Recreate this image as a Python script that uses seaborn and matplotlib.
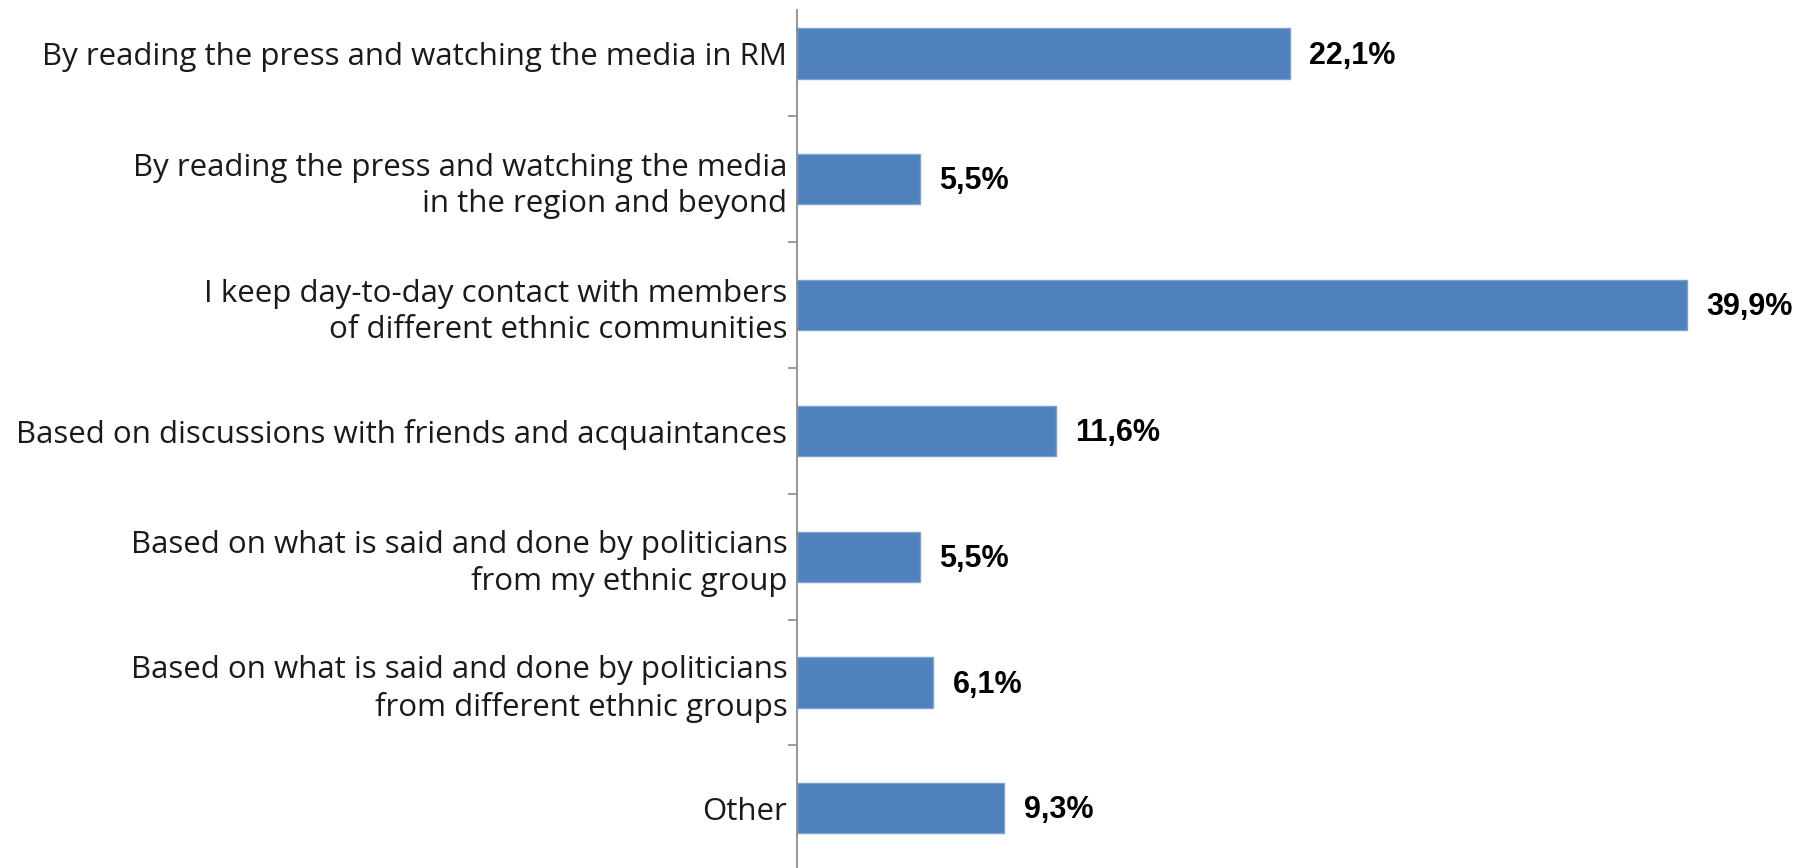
import matplotlib
matplotlib.use("Agg")
import matplotlib.pyplot as plt
import seaborn as sns
import pandas as pd

categories = [
    "By reading the press and watching the media in RM",
    "By reading the press and watching the media\nin the region and beyond",
    "I keep day-to-day contact with members\nof different ethnic communities",
    "Based on discussions with friends and acquaintances",
    "Based on what is said and done by politicians\nfrom my ethnic group",
    "Based on what is said and done by politicians\nfrom different ethnic groups",
    "Other",
]
values = [22.1, 5.5, 39.9, 11.6, 5.5, 6.1, 9.3]
value_labels = ["22,1%", "5,5%", "39,9%", "11,6%", "5,5%", "6,1%", "9,3%"]

df = pd.DataFrame({"category": categories, "value": values})

sns.set_theme(style="white")
plt.rcParams["font.family"] = ["Open Sans", "DejaVu Sans"]

W, H = 1810, 868
fig = plt.figure(figsize=(W / 100, H / 100), dpi=100)
ax = fig.add_axes([797 / W, 0, 1 - 797 / W, (H - 10) / H])

sns.barplot(data=df, x="value", y="category", orient="h", color="#4F81BD",
            width=0.4, saturation=1, edgecolor="#7FA3D1", linewidth=1, ax=ax)

ax.set_xlim(0, (W - 797) / 22.3)
ax.set_ylim(6.475, -0.346)
ax.set_xlabel("")
ax.set_ylabel("")
ax.set_xticks([])

for s in ["top", "right", "bottom"]:
    ax.spines[s].set_visible(False)
ax.spines["left"].set_color("#8C8C8C")
ax.spines["left"].set_linewidth(1.3)

ax.set_yticks(range(len(categories)))
ax.set_yticklabels(categories, fontsize=22.5, color="#1a1a1a", linespacing=1.28)
ax.tick_params(axis="y", length=0, pad=7)
# minor ticks between categories
ax.set_yticks([i + 0.5 for i in range(len(categories) - 1)], minor=True)
ax.tick_params(axis="y", which="minor", length=6.5, width=1.2, color="#8C8C8C", left=True)

for i, (v, lab) in enumerate(zip(values, value_labels)):
    ax.annotate(lab, xy=(v, i), xytext=(14, -1.5), textcoords="offset points",
                ha="left", va="center", fontsize=22, fontweight="bold",
                family=["Liberation Sans", "DejaVu Sans"], color="black")

fig.savefig("out.png", dpi=100)
